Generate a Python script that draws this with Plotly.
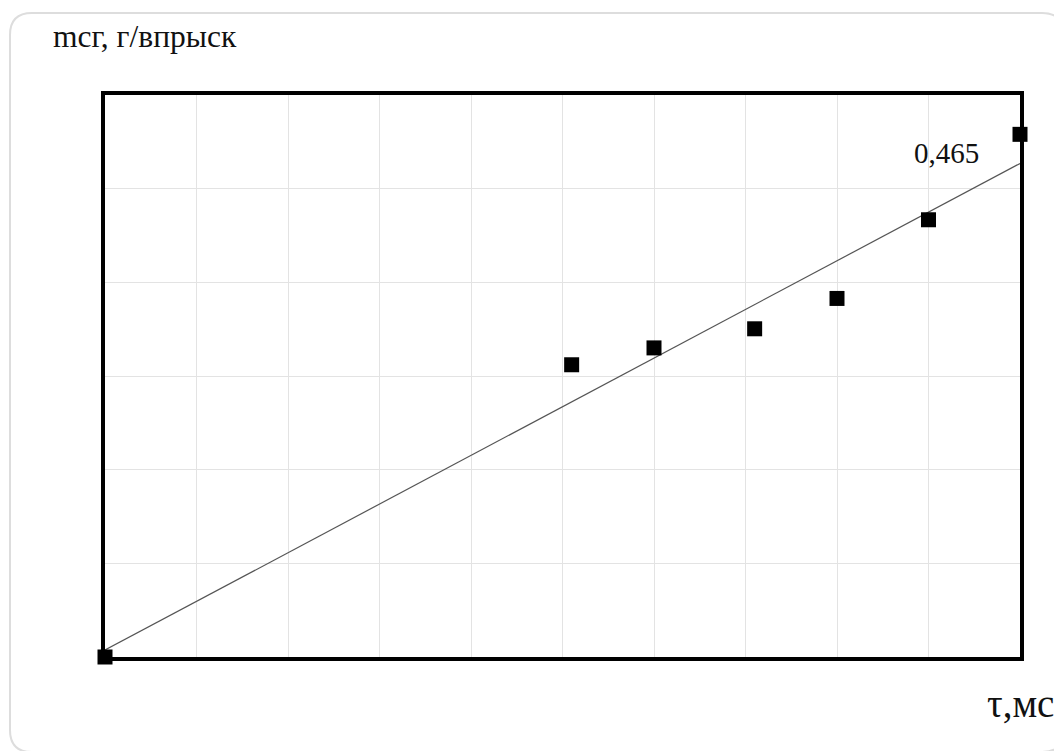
import numpy as np
import plotly.graph_objects as go

# Injection duration, ms, and fuel mass per injection, g
tau_ms = [0.0, 5.1, 6.0, 7.1, 8.0, 9.0, 10.0]
mass_g = [0.0, 0.26, 0.275, 0.292, 0.319, 0.389, 0.465]

x_range = [0, 10]
y_range = [0, 0.5]

W, H = 1054, 751
ML, MR, MT, MB = 105, 34, 95, 94
PW, PH = W - ML - MR, H - MT - MB


def px(x):
    return (x - ML) / PW


def py(y):
    return (H - MB - y) / PH


# least-squares trend line
k, b = np.polyfit(tau_ms, mass_g, 1)
trend_x = np.array(x_range, dtype=float)
trend_y = k * trend_x + b

fig = go.Figure()
fig.add_trace(go.Scatter(
    x=trend_x, y=trend_y, mode="lines",
    line=dict(color="#555555", width=1.2),
    hoverinfo="skip", showlegend=False,
))
fig.add_trace(go.Scatter(
    x=tau_ms, y=mass_g, mode="markers",
    marker=dict(symbol="square", size=15, color="black"),
    cliponaxis=False, showlegend=False,
))

# value label of the last point
fig.add_annotation(
    x=tau_ms[-1], y=mass_g[-1], text=f"{mass_g[-1]:.3f}".replace(".", ","),
    showarrow=False, xanchor="right", yanchor="middle",
    xshift=-39, yshift=-19,
    font=dict(family="Liberation Serif", size=29, color="#111111"),
)

# axis titles
fig.add_annotation(
    x=px(51), y=py(56), xref="paper", yref="paper",
    text="mcг, г/впрыск", showarrow=False, xanchor="left", yanchor="bottom",
    font=dict(family="Liberation Serif", size=31.5, color="#111111"),
)
fig.add_annotation(
    x=px(985), y=py(727), xref="paper", yref="paper",
    text="τ,мс", showarrow=False, xanchor="left", yanchor="bottom",
    font=dict(family="Liberation Serif", size=39, color="#111111"),
)

# rounded card outline
x0, y0, x1, y1, r = 10, 13, 1064, 752, 22
pts = [
    ("M", x0 + r, y0), ("L", x1 - r, y0), ("Q", x1, y0, x1, y0 + r),
    ("L", x1, y1 - r), ("Q", x1, y1, x1 - r, y1), ("L", x0 + r, y1),
    ("Q", x0, y1, x0, y1 - r), ("L", x0, y0 + r), ("Q", x0, y0, x0 + r, y0),
]
path = ""
for p in pts:
    cmd, coords = p[0], p[1:]
    conv = []
    for i in range(0, len(coords), 2):
        conv.append(f"{px(coords[i]):.5f},{py(coords[i + 1]):.5f}")
    path += cmd + " ".join(conv) + " "
path += "Z"
fig.add_shape(type="path", path=path, xref="paper", yref="paper",
              line=dict(color="#dddddd", width=2), layer="below")

axis_common = dict(
    showticklabels=False, ticks="", showgrid=True, gridcolor="#e3e3e3",
    gridwidth=1, zeroline=False, showline=True, linecolor="black",
    linewidth=4, mirror=True,
)
fig.update_xaxes(range=x_range, tick0=0, dtick=1, **axis_common)
fig.update_yaxes(range=y_range, tick0=0, dtick=(y_range[1] - y_range[0]) / 6, **axis_common)

fig.update_layout(
    width=W, height=H, autosize=False,
    margin=dict(l=ML, r=MR, t=MT, b=MB, pad=0),
    paper_bgcolor="white", plot_bgcolor="white",
    showlegend=False,
)

fig.write_html("out.html")
